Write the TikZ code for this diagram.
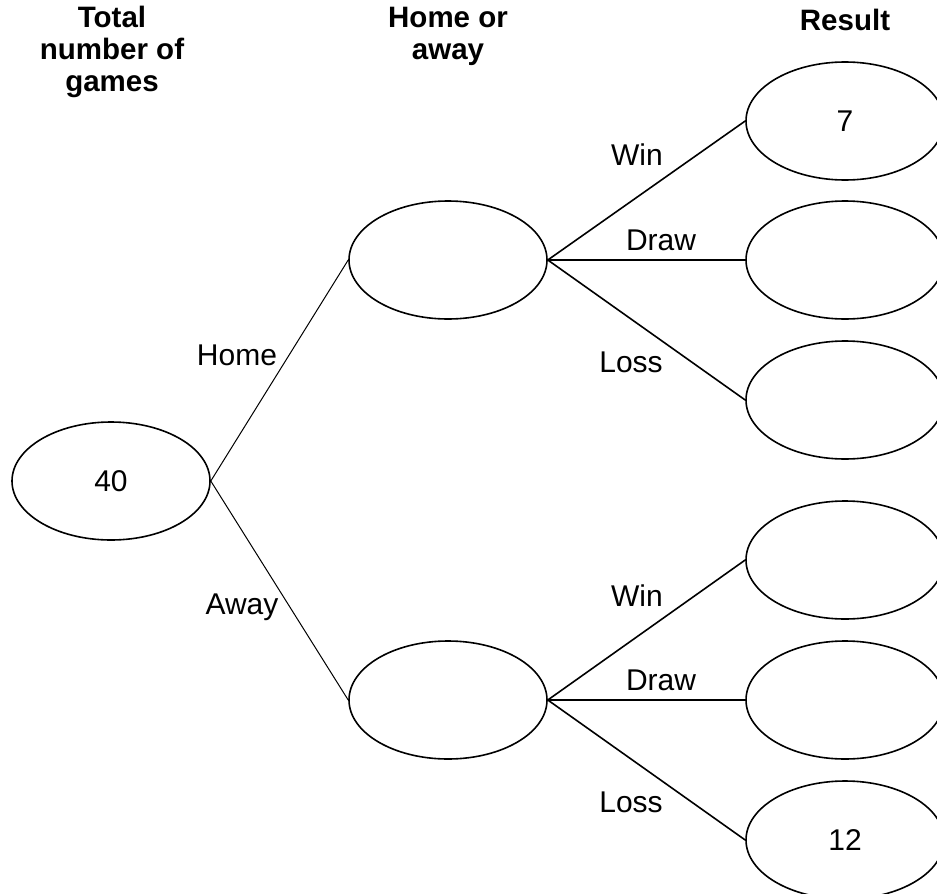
\documentclass[tikz,border=0pt]{standalone}
\usepackage{fontspec}
\setmainfont{Liberation Sans}
\usetikzlibrary{shapes.geometric}

\begin{document}
\begin{tikzpicture}[x=1pt,y=-1pt,font=\fontsize{30}{32}\selectfont,
    oval/.style={ellipse,draw,line width=1.6pt,minimum width=198pt,minimum height=118pt,inner sep=0pt},
    head/.style={align=center,font=\fontsize{29.5}{32}\selectfont\bfseries}]
        \clip (0,0) rectangle (937,894);
        \node[head] (t) at (112,52) {Total\\number of\\games};
        \node[head] (h) at (448,36) {Home or\\away};
        \node[head] (r) at (845,20) {Result};
        \draw (111,481) node[oval] (all) {40};
        \draw (448,260) node[oval] (home) {};
        \draw (448,700) node[oval] (away) {};
        \draw (845,121) node[oval] (hw) {7};
        \draw (845,260) node[oval] (hd) {};
        \draw (845,400) node[oval] (hl) {};
        \draw (845,560) node[oval] (aw) {};
        \draw (845,700) node[oval] (ad) {};
        \draw (845,840) node[oval] (al) {12};
        \node at (237,355) {Home};
        \node at (242,607) {Away};
        \node at (637,155) {Win};
        \node at (661,240) {Draw};
        \node at (631,362) {Loss};
        \node at (637,596) {Win};
        \node at (661,680) {Draw};
        \node at (631,802) {Loss};
        \draw[line width=1pt] (all.east) -- (home.west)
              (all.east) -- (away.west);
        \draw[line width=1.6pt] (home.east) -- (hw.west)
              (home.east) -- (hd.west)
              (home.east) -- (hl.west)
              (away.east) -- (aw.west)
              (away.east) -- (ad.west)
              (away.east) -- (al.west);
    \end{tikzpicture}
\end{document}
